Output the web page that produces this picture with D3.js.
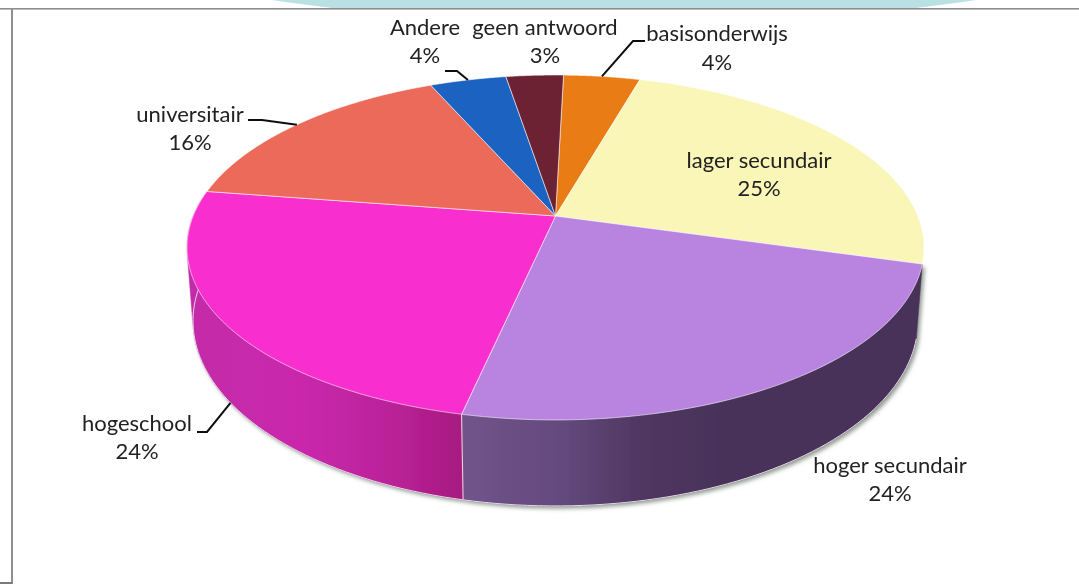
<!DOCTYPE html>
<html><head><meta charset="utf-8">
<style>html,body{margin:0;padding:0;background:#fff}svg{display:block}text{font-family:Lato,"Open Sans",sans-serif;fill:#222;text-anchor:middle}</style>
<script src="https://cdn.jsdelivr.net/npm/d3@7"></script>
</head><body><div id="c"></div>
<script>
// ---- data ----
const categories = ["basisonderwijs","lager secundair","hoger secundair","hogeschool","universitair","Andere","geen antwoord"];
const values     = [4,25,24,24,16,4,3];
const percentLabels = ["4%","25%","24%","24%","16%","4%","3%"];
// ---- style & layout ----
const topColors = ["#ea7c13","#f9f6b8","#b984e0","#f92fcf","#ec6a5a","#1a62c0","#6c2233"];
const labelPos = [[717,41,70],[759,168,196],[890,473,501],[137,431,459],[190,122,150],[425,35,63],[545,35,63]];
const leaders = [
  {i:0,frac:.5,rim:"top",pts:[[645,41],[633,41]]},
  {i:3,frac:.49,rim:"low",pts:[[197,432],[207,432]]},
  {i:4,frac:.5,rim:"top",pts:[[248,120],[262,120]]},
  {i:5,frac:.5,rim:"top",pts:[[445,71],[457,71]]}
];
const W=1079,H=584;
const apex=[555.5,216], b=.1826, a=166.7, c=362.3, startDeg=1.5;
// the top rim is an ellipse; the lower rim is the same ellipse moved and rescaled
const topEllipse={cx:555.5,cy:247.5,rx:368.5,ry:172.5}, lowEllipse={cx:555.5,cy:321,rx:362.5,ry:185};

const svg=d3.select("#c").append("svg").attr("width",W).attr("height",H).attr("viewBox",[0,0,W,H]);
const defs=svg.append("defs");
const soft=defs.append("filter").attr("id","soft").attr("x","-5%").attr("y","-5%").attr("width","110%").attr("height","110%");
soft.append("feGaussianBlur").attr("stdDeviation",.45);
const shad=defs.append("filter").attr("id","shad").attr("x","-5%").attr("y","-5%").attr("width","110%").attr("height","115%");
shad.append("feGaussianBlur").attr("stdDeviation",2);
function grad(id,stops){
  const g=defs.append("linearGradient").attr("id",id).attr("gradientUnits","userSpaceOnUse").attr("x1",stops[0][0]).attr("x2",stops[stops.length-1][0]).attr("y1",0).attr("y2",0);
  const x0=stops[0][0],x1=stops[stops.length-1][0];
  stops.forEach(s=>g.append("stop").attr("offset",(s[0]-x0)/(x1-x0)).attr("stop-color",s[1]));
}
grad("gHoger",[[462,"#71548a"],[560,"#644a7e"],[640,"#4f3761"],[720,"#49335a"],[920,"#49335a"]]);
grad("gHoge",[[188,"#c42aa8"],[300,"#c928ac"],[380,"#bd239c"],[461,"#a71b80"]]);
const sideFill={2:"url(#gHoger)",3:"url(#gHoge)"};

const root=svg.append("g").attr("filter","url(#soft)");

// background decoration
defs.append("clipPath").attr("id","topclip").append("rect").attr("x",0).attr("y",0).attr("width",W).attr("height",8);
root.append("ellipse").attr("cx",624).attr("cy",-40).attr("rx",460).attr("ry",62).attr("fill","#b9e0e3").attr("clip-path","url(#topclip)");
root.append("rect").attr("x",0).attr("y",8).attr("width",W).attr("height",1.6).attr("fill","#8f8f8f");
root.append("rect").attr("x",11).attr("y",8).attr("width",2).attr("height",H-8).attr("fill","#8f8f8f");
root.append("rect").attr("x",0).attr("y",582).attr("width",12).attr("height",2).attr("fill","#7a7a7a");

// projection of the tilted disc
const unit=t=>[Math.sin(t),-Math.cos(t)];
function topRim(t){const [X,Y]=unit(t),d=1-b*Y;return [apex[0]+c*X/d,apex[1]+a*Y/d];}
function lowRim(t){const p=topRim(t),T=topEllipse,L=lowEllipse;return [L.cx+L.rx/T.rx*(p[0]-T.cx),L.cy+L.ry/T.ry*(p[1]-T.cy)];}
const line=d3.line();
const pie=d3.pie().sort(null).startAngle(startDeg*Math.PI/180).endAngle((startDeg+360)*Math.PI/180);
const arcs=pie(values);
const samples=(s,e)=>d3.range(0,61).map(k=>s+(e-s)*k/60);

const sideArcs=[arcs[2],arcs[3]];
// wall = hull of both rims, so the tangent edge at the silhouette is filled; its top chord is hidden by the top face
const wall=d=>{const ts=samples(d.startAngle,d.endAngle);return line(d3.polygonHull(ts.map(topRim).concat(ts.map(lowRim))))+"Z";};
root.append("g").attr("filter","url(#shad)").attr("transform","translate(2.5,2.5)").selectAll("path").data(sideArcs).join("path").attr("d",wall).attr("fill","#8f9a8f");
root.append("g").selectAll("path").data(sideArcs).join("path").attr("d",wall)
  .attr("fill",d=>sideFill[d.index]).attr("stroke",d=>sideFill[d.index]).attr("stroke-width",.5);
root.append("g").selectAll("path").data(sideArcs).join("path")
  .attr("d",d=>line(samples(d.startAngle,d.endAngle).map(lowRim)))
  .attr("fill","none").attr("stroke","#e4d6e8").attr("stroke-width",1);
// seam between walls
root.append("path").attr("d",line([topRim(arcs[3].startAngle),lowRim(arcs[3].startAngle)])).attr("stroke","#eccbe6").attr("stroke-width",1.1).attr("fill","none");
// top slices
root.append("g").selectAll("path").data(arcs).join("path")
  .attr("d",d=>line([apex].concat(samples(d.startAngle,d.endAngle).map(topRim)))+"Z")
  .attr("fill",(d,i)=>topColors[i]).attr("stroke","#ffffff").attr("stroke-opacity",.55).attr("stroke-width",1).attr("stroke-linejoin","round");

// leaders
root.append("g").selectAll("path").data(leaders).join("path")
  .attr("d",l=>{const d=arcs[l.i],t=d.startAngle+(d.endAngle-d.startAngle)*l.frac;return line(l.pts.concat([l.rim==="top"?topRim(t):lowRim(t)]));})
  .attr("fill","none").attr("stroke","#111").attr("stroke-width",2);

// labels
const fs=22;
const lab=root.append("g").attr("font-size",fs);
categories.forEach((n,i)=>{
  lab.append("text").attr("x",labelPos[i][0]).attr("y",labelPos[i][1]).text(n);
  lab.append("text").attr("x",labelPos[i][0]).attr("y",labelPos[i][2]).text(percentLabels[i]);
});
</script></body></html>
